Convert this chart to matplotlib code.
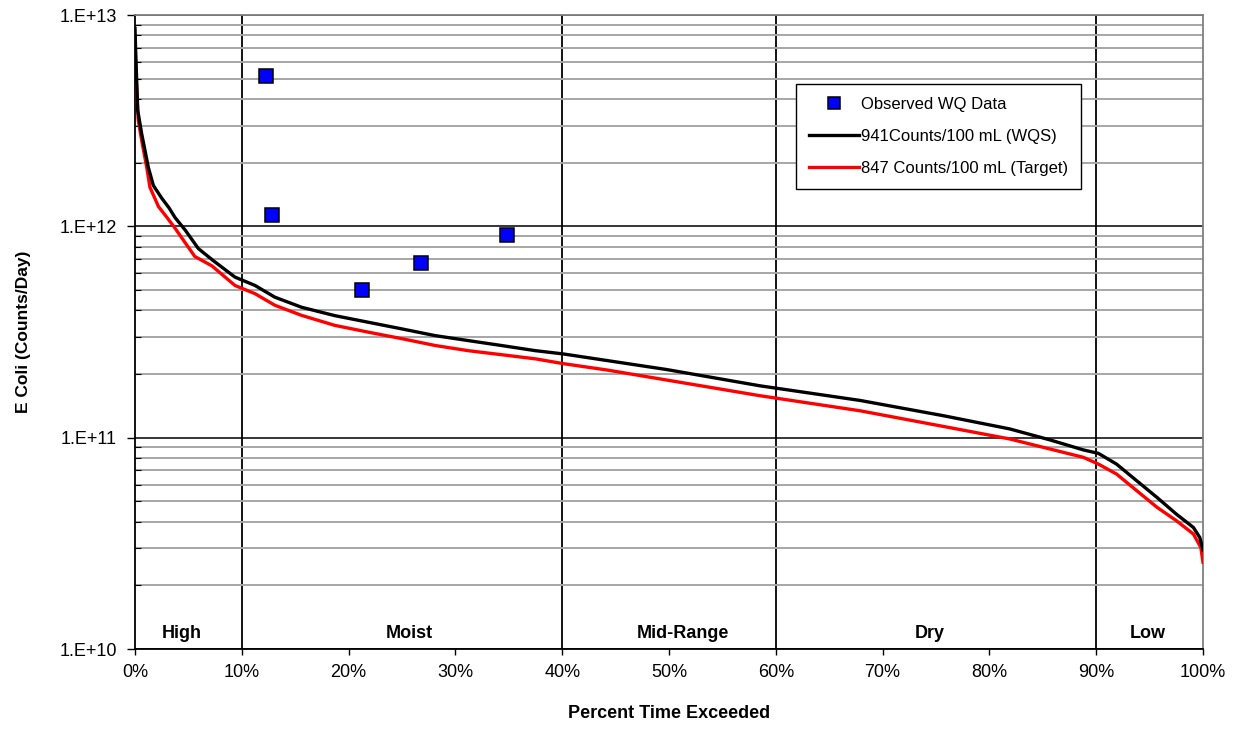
import matplotlib
matplotlib.use("Agg")
import matplotlib.pyplot as plt
from matplotlib.ticker import FixedLocator, FuncFormatter, LogLocator, NullFormatter
import numpy as np

plt.rcParams['font.family'] = ['Liberation Sans', 'DejaVu Sans']

# Load duration curve at the water quality standard (941 counts/100 mL)
pct_wqs = [0, 0.06, 0.25, 0.62, 1.25, 1.72, 2.5, 3.2, 3.75, 4.7, 5.93, 7.3, 9.36, 11.24,
           13.1, 15.6, 18.7, 21.8, 25.0, 28.1, 31.2, 34.3, 37.5, 40.1, 49.8, 58.5,
           67.9, 75.7, 81.9, 85.7, 88.8, 90.2, 91.9, 93.8, 95.7, 97.5, 99.1, 99.7, 100]
load_wqs = [8.65e12, 6.8e12, 3.55e12, 2.75e12, 1.9e12, 1.56e12, 1.36e12, 1.22e12, 1.1e12,
            9.6e11, 7.85e11, 6.9e11, 5.75e11, 5.25e11, 4.62e11, 4.14e11, 3.78e11, 3.52e11,
            3.27e11, 3.04e11, 2.88e11, 2.73e11, 2.58e11, 2.49e11, 2.1e11, 1.76e11,
            1.50e11, 1.27e11, 1.10e11, 9.75e10, 8.75e10, 8.43e10, 7.5e10, 6.25e10,
            5.21e10, 4.35e10, 3.76e10, 3.37e10, 2.95e10]

# Load duration curve at the target (847 counts/100 mL)
pct_target = [0, 0.06, 0.3, 0.62, 1.1, 1.4, 2.2, 3.0, 3.75, 4.6, 5.6, 7.2, 9.36, 11.24,
              13.1, 15.6, 18.7, 21.8, 25.0, 28.1, 31.2, 34.3, 37.5, 40.1, 44.2, 58.5,
              67.9, 75.7, 81.9, 85.7, 88.8, 90.2, 91.9, 93.8, 95.7, 97.5, 99.1, 99.8, 100]
load_target = [7.75e12, 5.7e12, 3.2e12, 2.56e12, 1.9e12, 1.53e12, 1.24e12, 1.1e12, 9.8e11,
               8.5e11, 7.2e11, 6.5e11, 5.25e11, 4.8e11, 4.23e11, 3.79e11, 3.4e11, 3.16e11,
               2.94e11, 2.73e11, 2.58e11, 2.47e11, 2.36e11, 2.24e11, 2.09e11, 1.58e11,
               1.34e11, 1.13e11, 9.86e10, 8.83e10, 8.07e10, 7.5e10, 6.73e10, 5.61e10,
               4.68e10, 4.05e10, 3.5e10, 3.02e10, 2.57e10]

# Observed water quality samples
obs_pct = [12.3, 12.8, 21.3, 26.8, 34.8]
obs_load = [5.14e12, 1.135e12, 5.0e11, 6.7e11, 9.1e11]

# Flow regime zones
zone_bounds = [10, 40, 60, 90]
zone_names = ["High", "Moist", "Mid-Range", "Dry", "Low"]
zone_label_x = [4.4, 25.7, 51.3, 74.4, 94.8]

x_ticks = list(range(0, 101, 10))
y_ticks = [1e10, 1e11, 1e12, 1e13]

fig = plt.figure(figsize=(12.35, 7.29), dpi=100)
ax = fig.add_axes([135 / 1235, 1 - 649 / 729, (1203 - 135) / 1235, (649 - 15) / 729])

ax.set_yscale('log')
ax.set_xlim(0, 100)
ax.set_ylim(1e10, 1e13)

# Horizontal grid: grey at minor decades, black at major decades
ax.yaxis.set_major_locator(FixedLocator(y_ticks))
ax.yaxis.set_minor_locator(LogLocator(base=10, subs=np.arange(2, 10)))
ax.yaxis.set_minor_formatter(NullFormatter())
ax.yaxis.set_major_formatter(FuncFormatter(lambda v, p: "1.E+%d" % round(np.log10(v))))
ax.grid(which='minor', axis='y', color='#a6a6a6', linewidth=1.4, zorder=0)
ax.grid(which='major', axis='y', color='black', linewidth=1.1, zorder=0)

for b in zone_bounds:
    ax.axvline(b, color='black', linewidth=1.3, zorder=1)

ax.xaxis.set_major_locator(FixedLocator(x_ticks))
ax.xaxis.set_major_formatter(FuncFormatter(lambda v, p: "%d%%" % v))

ax.tick_params(axis='x', which='major', direction='out', length=4, width=1, pad=7,
               labelsize=13)
ax.tick_params(axis='y', which='major', direction='out', length=6, width=1, pad=7,
               labelsize=13)
ax.tick_params(axis='y', which='minor', direction='in', length=4, width=0.8)

for side in ['left', 'bottom']:
    ax.spines[side].set_color('black')
    ax.spines[side].set_linewidth(1.3)
for side in ['top', 'right']:
    ax.spines[side].set_color('#808080')
    ax.spines[side].set_linewidth(1.3)

obs = ax.plot(obs_pct, obs_load, linestyle='none', marker='s', markersize=10,
              markerfacecolor='#0000ff', markeredgecolor='black', markeredgewidth=1.1,
              label='Observed WQ Data', zorder=5)[0]
l1 = ax.plot(pct_wqs, load_wqs, color='black', linewidth=2.4,
             label='941Counts/100 mL (WQS)', zorder=4)[0]
l2 = ax.plot(pct_target, load_target, color='#ff0000', linewidth=2.4,
             label='847 Counts/100 mL (Target)', zorder=3)[0]

for name, xz in zip(zone_names, zone_label_x):
    ax.text(xz, 1.19e10, name, ha='center', va='center', fontsize=13,
            fontweight='bold', zorder=6)

ax.set_xlabel("Percent Time Exceeded", fontsize=13, fontweight='bold')
ax.xaxis.set_label_coords(0.5, -0.088)
ax.set_ylabel("E Coli (Counts/Day)", fontsize=12.5, fontweight='bold')
ax.yaxis.set_label_coords(-0.097, 0.5)

leg = ax.legend(handles=[obs, l1, l2], loc='upper left',
                bbox_to_anchor=(796 / 1235, 1 - 84 / 729), bbox_transform=fig.transFigure,
                borderaxespad=0, fancybox=False, framealpha=1, edgecolor='black',
                fontsize=12, handlelength=3.0, handletextpad=0.1, labelspacing=1.0,
                borderpad=0.8, markerscale=0.9)
leg.get_frame().set_linewidth(1.0)

fig.savefig("out.png", dpi=100)
